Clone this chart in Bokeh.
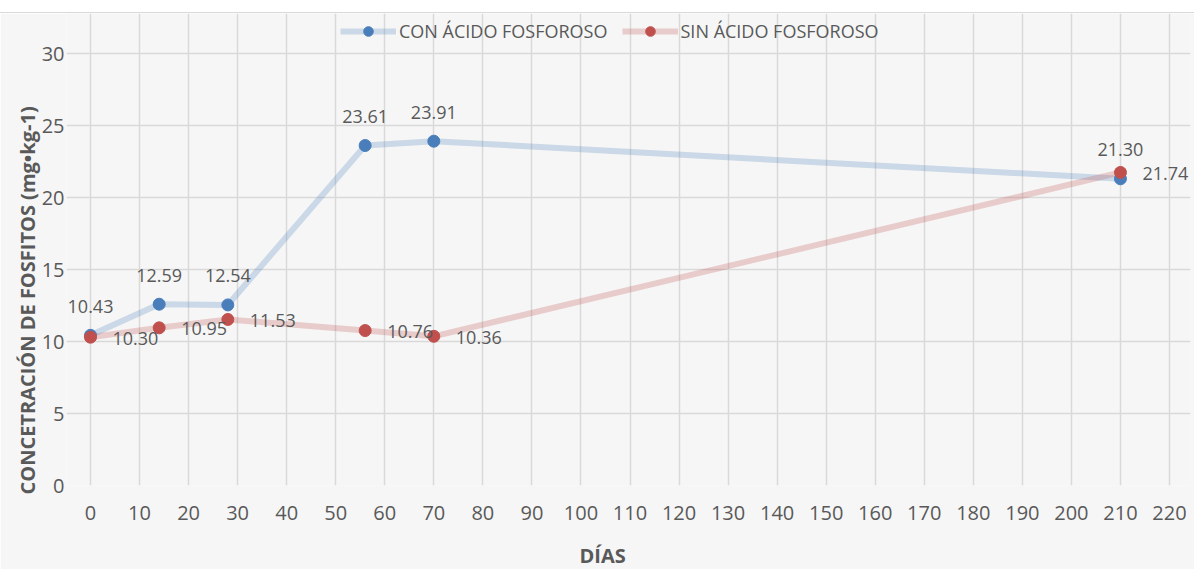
from bokeh.plotting import figure
from bokeh.models import (ColumnDataSource, Legend, LegendItem, LabelSet, Title,
                          FixedTicker, Range1d)
from bokeh.core.properties import value
from bokeh.embed import file_html
from bokeh.resources import INLINE

# ---- data ----
days = [0, 14, 28, 56, 70, 210]
con_acido = [10.43, 12.59, 12.54, 23.61, 23.91, 21.30]
sin_acido = [10.30, 10.95, 11.53, 10.76, 10.36, 21.74]
series_names = ["CON ÁCIDO FOSFOROSO", "SIN ÁCIDO FOSFOROSO"]
x_ticks = list(range(0, 221, 10))
y_ticks = [0, 5, 10, 15, 20, 25, 30]
x_title = "DÍAS"
y_title = "CONCETRACIÓN DE FOSFITOS (mg•kg-1)"

FONT = "Open Sans"
GREY = "#595959"
BLUE = "#4a7ebb"
RED = "#c0504d"
BG = "#f6f6f6"

# geometry (pixels): grid area 1079 x 432; frame padded so edge labels are not clipped
GRID_W, GRID_H = 1079, 432
PAD_L, PAD_R, PAD_T = 24, 21, 40
XMIN, XMAX = x_ticks[0], x_ticks[-1]
YMIN, YMAX = y_ticks[0], y_ticks[-1]
xs = GRID_W / (XMAX - XMIN)
ys = GRID_H / (YMAX - YMIN)

src_con = ColumnDataSource(dict(x=days, y=con_acido, t=["%.2f" % v for v in con_acido]))
src_sin = ColumnDataSource(dict(x=days, y=sin_acido, t=["%.2f" % v for v in sin_acido]))

p = figure(width=1194, height=556, output_backend="svg", toolbar_location=None,
           x_range=Range1d(XMIN - PAD_L / xs, XMAX + PAD_R / xs),
           y_range=Range1d(YMIN, YMAX + PAD_T / ys),
           frame_width=GRID_W + PAD_L + PAD_R, frame_height=GRID_H + PAD_T,
           min_border_left=66, min_border_right=4, min_border_top=0, min_border_bottom=84)
p.border_fill_color = BG
p.background_fill_color = BG
p.outline_line_color = None
p.styles = {"margin-top": "12px", "border-top": "1px solid #d9d9d9"}

for ax in (p.xaxis[0], p.yaxis[0]):
    ax.axis_line_color = None
    ax.major_tick_line_color = None
    ax.minor_tick_line_color = None
    ax.major_tick_out = 0
    ax.major_tick_in = 0
    ax.minor_tick_out = 0
    ax.major_label_text_font = FONT
    ax.major_label_text_font_size = "20px"
    ax.major_label_text_color = GREY
p.xaxis.ticker = FixedTicker(ticks=x_ticks)
p.yaxis.ticker = FixedTicker(ticks=y_ticks)
p.xaxis.bounds = (XMIN, XMAX)
p.yaxis.bounds = (YMIN, YMAX)
p.xaxis.major_label_standoff = 20
p.yaxis.major_label_standoff = 2

p.xgrid.ticker = FixedTicker(ticks=x_ticks)
p.ygrid.ticker = FixedTicker(ticks=y_ticks)
p.xgrid.bounds = (YMIN, YMAX)
p.ygrid.bounds = (XMIN, XMAX)
for g in (p.xgrid[0], p.ygrid[0]):
    g.grid_line_color = "#d9d9d9"
    g.grid_line_width = 1.5

l1 = p.line("x", "y", source=src_con, line_color=BLUE, line_alpha=0.25, line_width=6)
l2 = p.line("x", "y", source=src_sin, line_color=RED, line_alpha=0.25, line_width=6)
s1 = p.scatter("x", "y", source=src_con, size=12, fill_color=BLUE, line_color=BLUE)
s2 = p.scatter("x", "y", source=src_sin, size=12, fill_color=RED, line_color=RED)

lab_con = LabelSet(x="x", y="y", text="t", source=src_con, x_offset=0, y_offset=29,
                   text_align="center", text_baseline="middle", text_font=value(FONT),
                   text_font_size="18px", text_color=GREY)
lab_sin = LabelSet(x="x", y="y", text="t", source=src_sin, x_offset=22, y_offset=-1,
                   text_align="left", text_baseline="middle", text_font=value(FONT),
                   text_font_size="18px", text_color=GREY)
p.add_layout(lab_con)
p.add_layout(lab_sin)

legend = Legend(items=[LegendItem(label=series_names[0], renderers=[l1, s1]),
                       LegendItem(label=series_names[1], renderers=[l2, s2])],
                orientation="horizontal", location=(274, 442),
                background_fill_alpha=0, border_line_color=None,
                label_text_font=FONT, label_text_font_size="18px", label_text_color=GREY,
                glyph_width=56, glyph_height=24, label_height=24, label_standoff=3,
                spacing=14, padding=0, margin=0)
p.add_layout(legend, "center")

p.add_layout(Title(text=y_title, align="left", offset=-9, standoff=-4,
                   text_font=FONT, text_font_size="20px", text_font_style="bold",
                   text_color=GREY), "left")
p.add_layout(Title(text=x_title, align="left", offset=513, standoff=35,
                   text_font=FONT, text_font_size="20px", text_font_style="bold",
                   text_color=GREY), "below")

open("out.html", "w").write(file_html(p, INLINE))
